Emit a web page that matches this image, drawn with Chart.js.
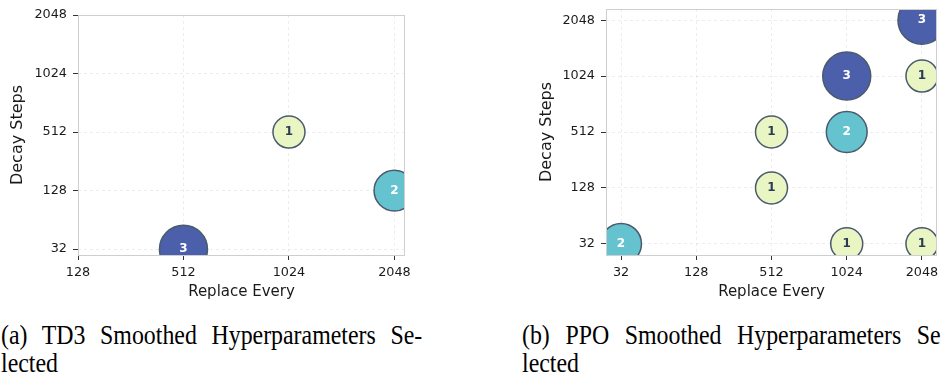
<!DOCTYPE html>
<html>
<head>
<meta charset="utf-8">
<script src="https://cdn.jsdelivr.net/npm/chart.js@4"></script>
<style>
body{margin:0;width:941px;height:375px;overflow:hidden;background:#fff;position:relative}
canvas{position:absolute;top:0}
#td3Chart{left:0}
#ppoChart{left:520px}
.cap{position:absolute;top:322px;width:468px;font-family:"Liberation Serif",serif;font-size:26.5px;line-height:27.7px;transform:scaleX(0.9);transform-origin:0 0;color:#000}
.l1{text-align:justify;text-align-last:justify;white-space:nowrap}
</style>
</head>
<body>
<canvas id="td3Chart" width="420" height="300"></canvas>
<canvas id="ppoChart" width="421" height="300"></canvas>
<div class="cap" style="left:1px"><div class="l1">(a) TD3 Smoothed Hyperparameters Se-</div><div>lected</div></div>
<div class="cap" style="left:522px;width:474px"><div class="l1">(b) PPO Smoothed Hyperparameters Se-</div><div>lected</div></div>
<script>

// tick labels (axes are evenly spaced categories)
const td3X=["128","512","1024","2048"];
const ppoX=["32","128","512","1024","2048"];
const decayY=["32","128","512","1024","2048"];

// TD3 selections
const td3Replace=[1024,2048,512];
const td3Decay=[512,128,32];
const td3Count=[1,2,3];

// PPO selections
const ppoReplace=[2048,1024,2048,512,1024,512,32,1024,2048];
const ppoDecay=[2048,1024,1024,512,512,128,32,32,32];
const ppoCount=[3,3,1,1,2,1,2,1,1];

const fillFor={1:"#e9f5c3",2:"#64c3cf",3:"#4c5fab"};
const textFor={1:"#2b3a55",2:"#ffffff",3:"#ffffff"};

function radiusFor(c){
return Math.sqrt(96+160*c);
}

const framePlugin={
id:"frame",
afterDatasetsDraw(chart){
const a=chart.chartArea;
const ctx=chart.ctx;
ctx.save();
ctx.strokeStyle="#cfcfcf";
ctx.lineWidth=1;
ctx.strokeRect(Math.round(a.left)+0.5,Math.round(a.top)+0.5,Math.round(a.right-a.left)-1,Math.round(a.bottom-a.top));
ctx.restore();
}
};

const countLabels={
id:"countLabels",
afterDatasetsDraw(chart){
const counts=chart.data.datasets[0].counts;
const ctx=chart.ctx;
ctx.save();
ctx.font="bold 12px 'DejaVu Sans'";
ctx.textAlign="center";
ctx.textBaseline="middle";
chart.getDatasetMeta(0).data.forEach((el,i)=>{
ctx.fillStyle=textFor[counts[i]];
ctx.fillText(String(counts[i]),el.x,el.y);
});
ctx.restore();
}
};

function noPad(s){
s.paddingLeft=0;s.paddingRight=0;s.paddingTop=0;s.paddingBottom=0;
}

function makeChart(id,xLabels,replace,decay,counts,cfg){

const tickFont={family:"DejaVu Sans",size:12.8};

new Chart(document.getElementById(id),{
type:"bubble",
data:{
datasets:[{
counts:counts,
data:replace.map((v,i)=>({x:xLabels.indexOf(String(v)),y:decayY.indexOf(String(decay[i]))})),
radius:ctx=>radiusFor(counts[ctx.dataIndex]),
backgroundColor:ctx=>fillFor[counts[ctx.dataIndex]],
borderColor:"#4b5a6c",
borderWidth:1.5
}]
},
options:{
responsive:false,
animation:false,
devicePixelRatio:1,
events:[],
layout:{autoPadding:false,padding:{left:0,bottom:0,top:cfg.top,right:cfg.right}},
plugins:{legend:{display:false},tooltip:{enabled:false}},
scales:{
x:{
type:"linear",
min:cfg.xMin,max:cfg.xMax,
afterBuildTicks:s=>{s.ticks=xLabels.map((l,i)=>({value:i}));},
afterFit:s=>{s.height=45;noPad(s);},
ticks:{callback:v=>xLabels[v],font:tickFont,color:"#1a1a1a",padding:5,maxRotation:0,autoSkip:false},
grid:{color:"rgba(0,0,0,0.09)",lineWidth:0.8,tickColor:"#333",tickLength:5,tickWidth:1,tickBorderDash:[]},
border:{display:false,dash:[3,3]},
title:{display:true,text:"Replace Every",font:{family:"DejaVu Sans",size:15,lineHeight:1},color:"#1a1a1a",padding:{top:0,bottom:0}}
},
y:{
type:"linear",
min:cfg.yMin,max:cfg.yMax,
afterBuildTicks:s=>{s.ticks=decayY.map((l,i)=>({value:i}));},
afterFit:s=>{s.width=cfg.yWidth;noPad(s);},
ticks:{callback:v=>decayY[v],font:tickFont,color:"#1a1a1a",padding:6,autoSkip:false},
grid:{color:"rgba(0,0,0,0.09)",lineWidth:0.8,tickColor:"#333",tickLength:5,tickWidth:1,tickBorderDash:[]},
border:{display:false,dash:[3,3]},
title:{display:true,text:"Decay Steps",font:{family:"DejaVu Sans",size:16,lineHeight:1},color:"#1a1a1a",padding:{top:cfg.titlePad,bottom:0}}
}
}
},
plugins:[framePlugin,countLabels]
});

}

makeChart("td3Chart",td3X,td3Replace,td3Decay,td3Count,
{top:15,right:15,yWidth:78,titlePad:10.3,xMin:0,xMax:3.1,yMin:-0.1,yMax:4});

makeChart("ppoChart",ppoX,ppoReplace,ppoDecay,ppoCount,
{top:9,right:4,yWidth:86,titlePad:18.7,xMin:-0.2,xMax:4.2,yMin:-0.2,yMax:4.2});

</script>
</body>
</html>
